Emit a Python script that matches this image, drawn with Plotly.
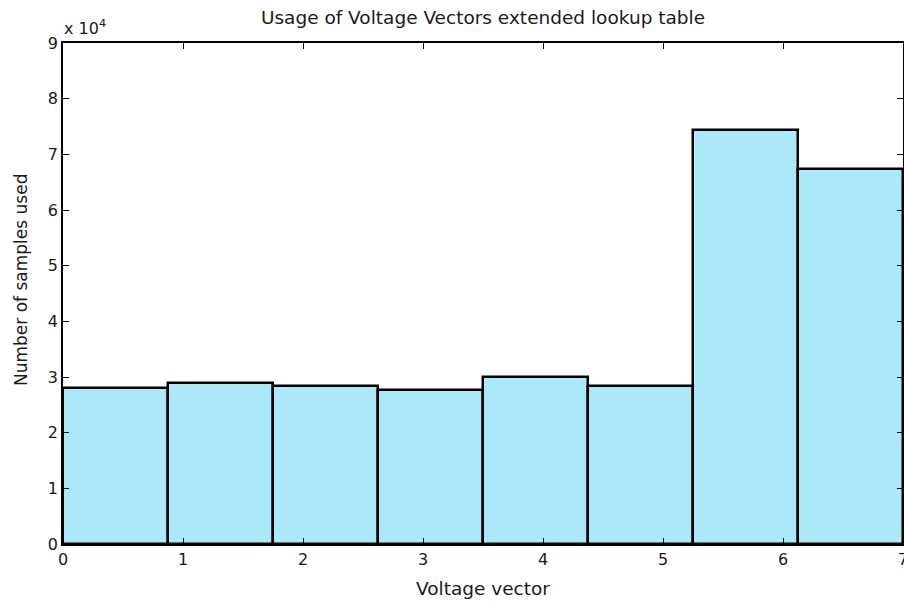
import plotly.graph_objects as go

# Data (histogram of voltage vector usage)
bin_edges = [0.0, 0.875, 1.75, 2.625, 3.5, 4.375, 5.25, 6.125, 7.0]
counts = [28000, 28900, 28330, 27660, 30050, 28380, 74370, 67300]
x_tick_vals = [0, 1, 2, 3, 4, 5, 6, 7]
y_tick_vals = [0, 10000, 20000, 30000, 40000, 50000, 60000, 70000, 80000, 90000]
y_tick_text = ["0", "1", "2", "3", "4", "5", "6", "7", "8", "9"]

centers = [(a + b) / 2 for a, b in zip(bin_edges[:-1], bin_edges[1:])]
widths = [b - a for a, b in zip(bin_edges[:-1], bin_edges[1:])]

FONT = "DejaVu Sans, Liberation Sans, sans-serif"
TXT = "#1a1a1a"

fig = go.Figure()
fig.add_trace(go.Bar(
    x=centers, y=counts, width=widths,
    marker=dict(color="#ABE8F8", line=dict(color="black", width=2.5)),
    showlegend=False,
))

fig.update_layout(
    width=904, height=604,
    margin=dict(l=63, r=1, t=43, b=60, autoexpand=False),
    paper_bgcolor="white", plot_bgcolor="white",
    font=dict(family=FONT, size=16, color=TXT),
    title=dict(text="Usage of Voltage Vectors extended lookup table",
               x=0.5, xref="paper", y=1 - 18 / 604, yanchor="middle",
               font=dict(size=18.5, family=FONT)),
    bargap=0,
    xaxis=dict(
        range=[0, 7], tickvals=x_tick_vals, ticks="inside", ticklen=6,
        tickcolor="black", showline=True, linecolor="black", linewidth=1.5,
        mirror="ticks", showgrid=False, zeroline=False,
        ticklabeloverflow="allow", automargin=False,
        title=dict(text="Voltage vector", font=dict(size=18.5), standoff=14),
        tickfont=dict(size=16),
    ),
    yaxis=dict(
        range=[0, 90000], tickvals=y_tick_vals, ticktext=y_tick_text,
        ticks="inside", ticklen=6, tickcolor="black", showline=True,
        linecolor="black", linewidth=1.5, mirror="ticks", showgrid=False,
        zeroline=False, automargin=False,
        tickfont=dict(size=16),
    ),
)

fig.add_annotation(
    text="Number of samples used", textangle=-90,
    xref="paper", yref="paper", x=0.0, y=(544 - 280) / 501,
    xanchor="center", yanchor="middle", xshift=-42, showarrow=False,
    font=dict(size=17, family=FONT, color=TXT),
)

fig.add_annotation(
    text="x 10<sup>4</sup>", xref="paper", yref="paper", x=0.0, y=1.0,
    xanchor="left", yanchor="bottom", showarrow=False,
    font=dict(size=16, family=FONT, color=TXT), xshift=-1, yshift=3,
)

fig.write_html("out.html", config={"displayModeBar": False},
               post_script="document.body.style.margin='0';document.body.style.padding='0';")
